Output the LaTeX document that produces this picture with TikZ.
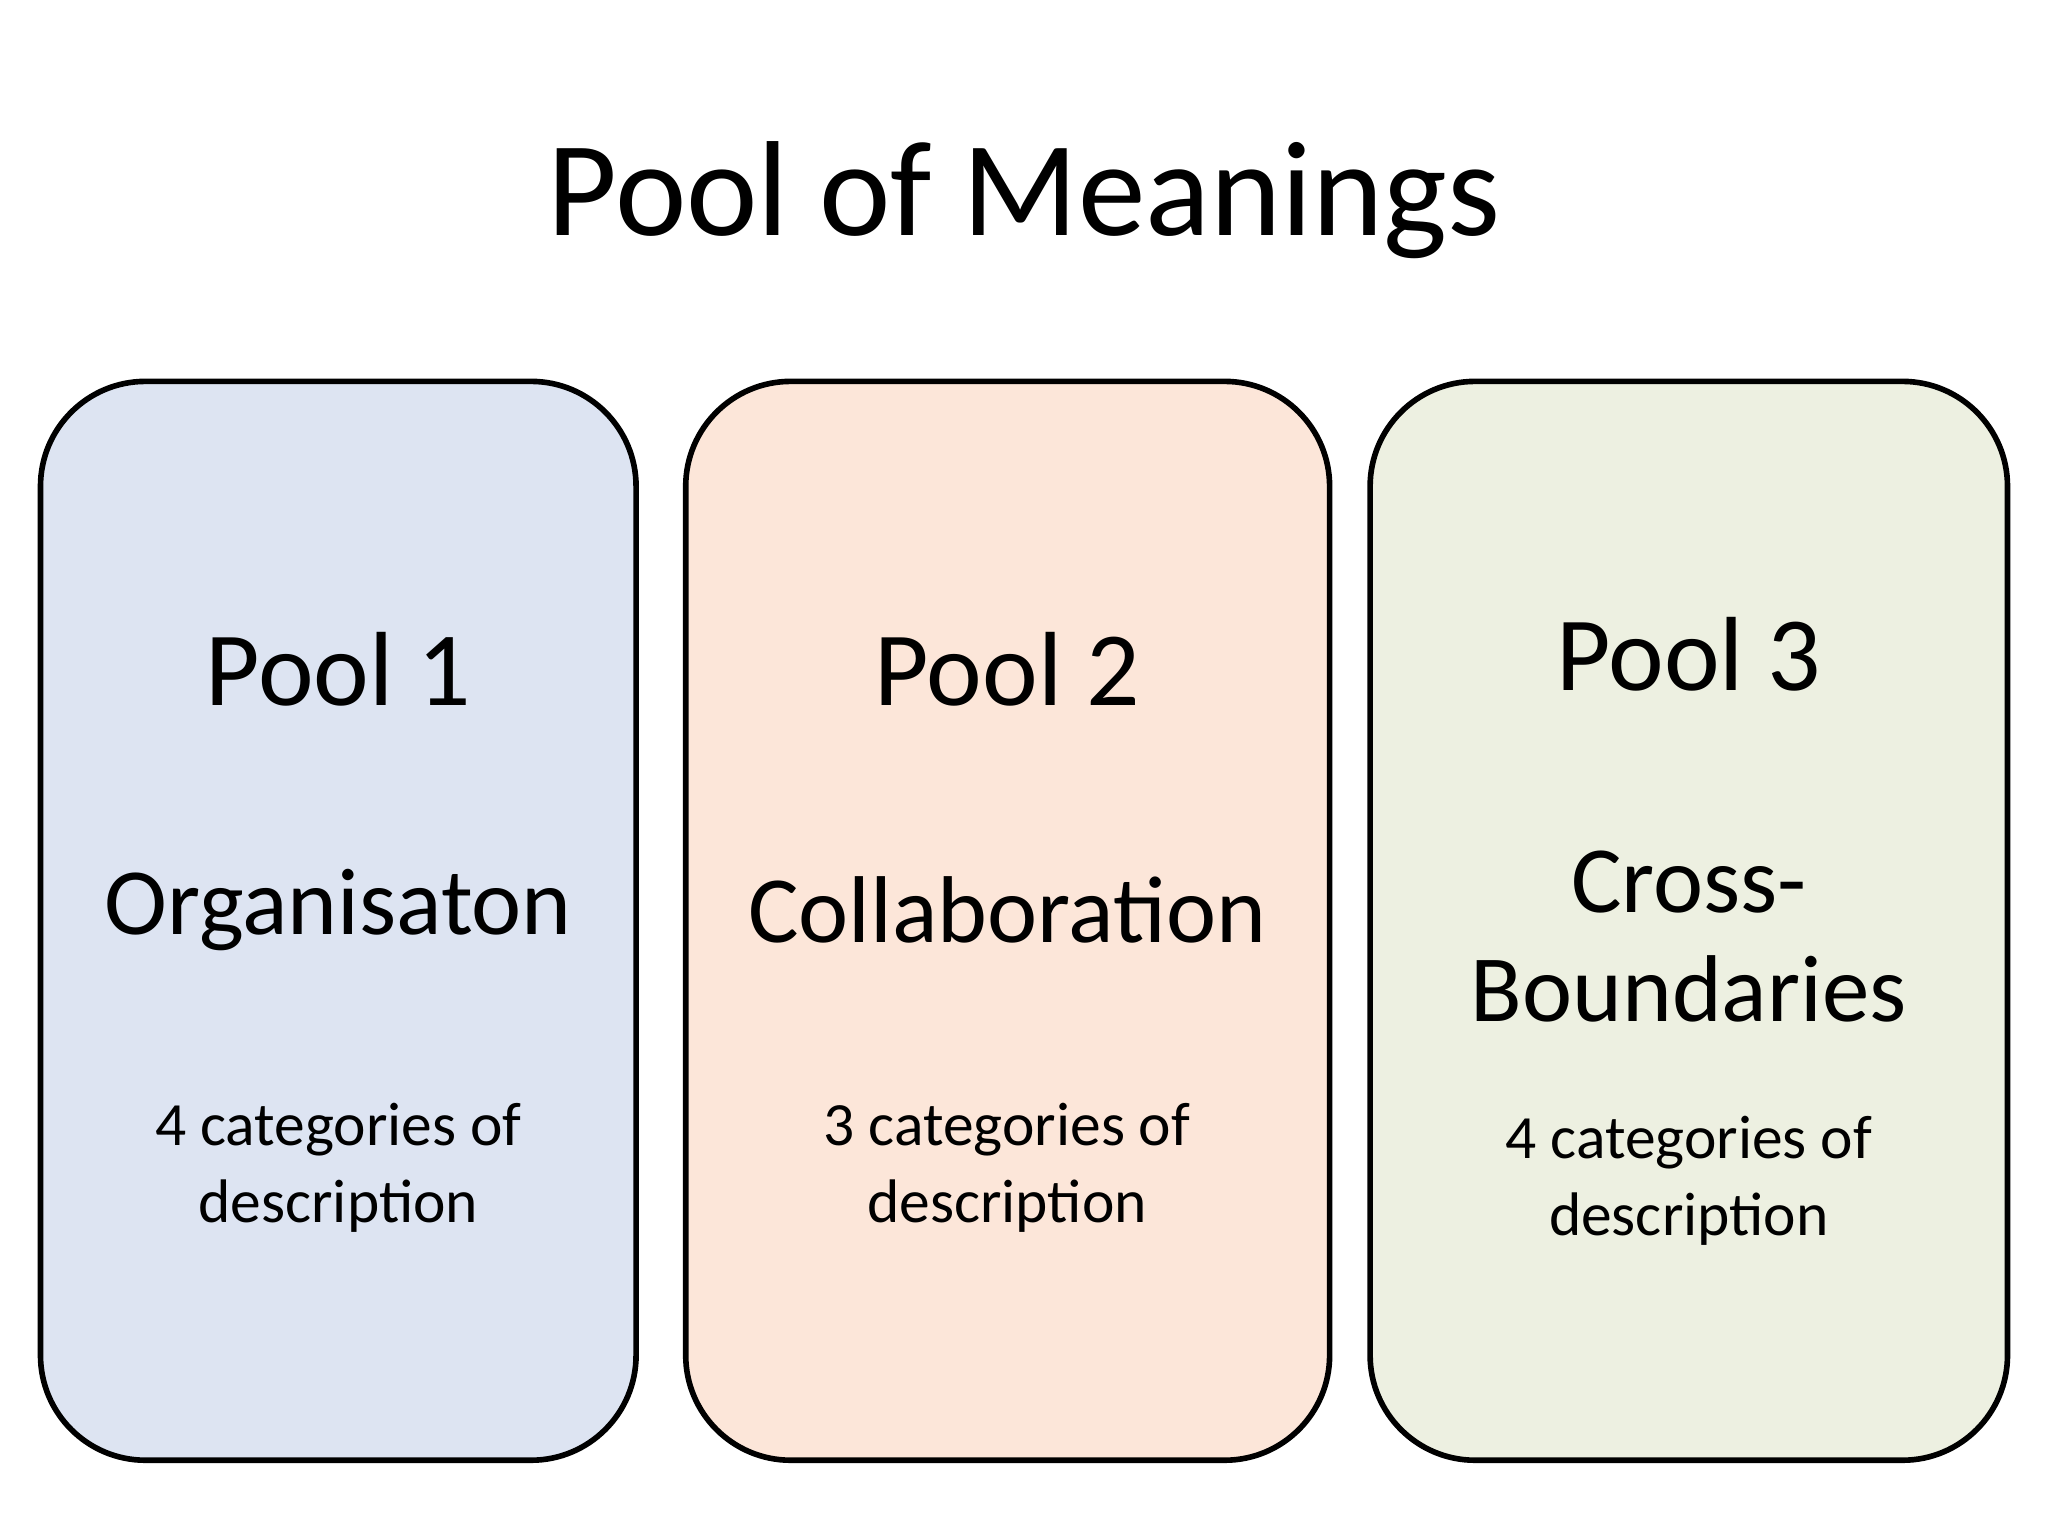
\documentclass[tikz,border=0pt]{standalone}
\usepackage{fontspec}
\setmainfont{Carlito}
\definecolor{cA}{HTML}{DDE4F2}
\definecolor{cB}{HTML}{FCE6D9}
\definecolor{cC}{HTML}{EDF0E1}
\begin{document}
\begin{tikzpicture}[x=0.013061cm,y=-0.013061cm,
  pool/.style={draw=black,line width=1.6pt,rounded corners=1.05cm},
  lbl/.style={font=\fontsize{30}{34}\selectfont,anchor=base},
  big/.style={font=\fontsize{27}{31}\selectfont,align=center},
  small/.style={font=\fontsize{17.5}{22}\selectfont,align=center}]
\useasboundingbox (0,0) rectangle (1568,1176);
\node[font=\fontsize{38.5}{44}\selectfont,anchor=base] (title) at (784,180) {Pool of Meanings};
\draw[pool,fill=cA] (31,292) rectangle (487,1118);
\draw[pool,fill=cB] (525,292) rectangle (1018,1118);
\draw[pool,fill=cC] (1049,292) rectangle (1537,1118);
\node[lbl] (p1) at (259,540) {Pool 1};
\node[lbl] (p2) at (771,540) {Pool 2};
\node[lbl] (p3) at (1293,529) {Pool 3};
\node[big] (o) at (259,697) {Organisaton};
\node[big] (c) at (771,697) {Collaboration};
\node[big] (x) at (1293,717) {Cross-\\Boundaries};
\node[small] (d1) at (259,894) {4 categories of\\description};
\node[small] (d2) at (771,894) {3 categories of\\description};
\node[small] (d3) at (1293,904) {4 categories of\\description};
\end{tikzpicture}
\end{document}
